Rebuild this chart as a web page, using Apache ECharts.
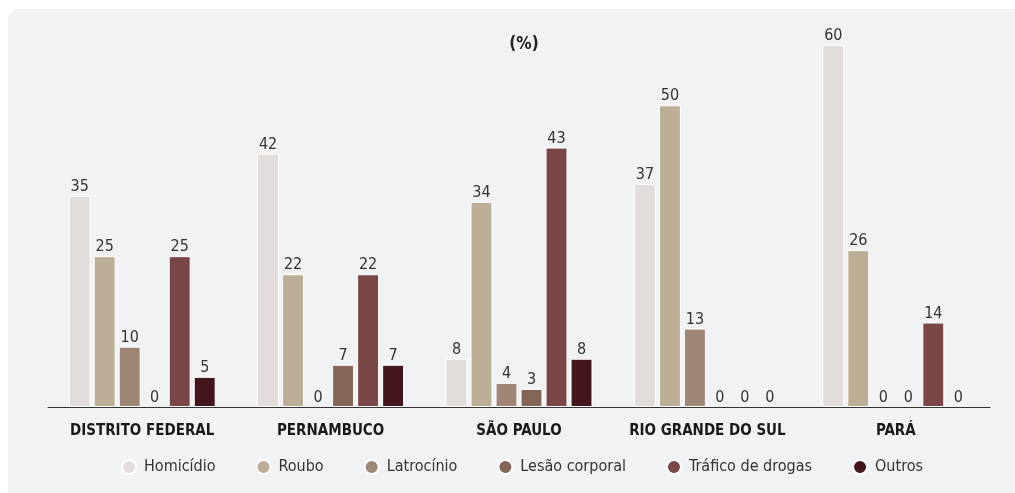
<!DOCTYPE html>
<html>
<head>
<meta charset="utf-8">
<script src="https://cdn.jsdelivr.net/npm/echarts@6/dist/echarts.min.js"></script>
<style>
  html, body { margin: 0; padding: 0; background: #ffffff; }
  #chart { width: 1015px; height: 493px; }
</style>
</head>
<body>
<div id="chart"></div>
<script>
const states = ['DISTRITO FEDERAL', 'PERNAMBUCO', 'SÃO PAULO', 'RIO GRANDE DO SUL', 'PARÁ'];
const homicidio = [35, 42, 8, 37, 60];
const roubo = [25, 22, 34, 50, 26];
const latrocinio = [10, 0, 4, 13, 0];
const lesaoCorporal = [0, 7, 3, 0, 0];
const trafico = [25, 22, 43, 0, 14];
const outros = [5, 7, 8, 0, 0];

const seriesDefs = [
  { name: 'Homicídio', data: homicidio, color: '#e2ddda' },
  { name: 'Roubo', data: roubo, color: '#bcae94' },
  { name: 'Latrocínio', data: latrocinio, color: '#9f8574' },
  { name: 'Lesão corporal', data: lesaoCorporal, color: '#836656' },
  { name: 'Tráfico de drogas', data: trafico, color: '#7b4646' },
  { name: 'Outros', data: outros, color: '#42161c' },
];

const font = '"DejaVu Sans Condensed", "Noto Sans", sans-serif';
const chart = echarts.init(document.getElementById('chart'));

chart.setOption({
  backgroundColor: '#ffffff',
  animation: false,
  graphic: [
    {
      type: 'rect',
      z: -10,
      silent: true,
      shape: { x: 8, y: 9, width: 1010, height: 490, r: [10, 0, 0, 0] },
      style: { fill: '#f1f2f4' },
    },
  ],
  title: {
    text: '(%)',
    left: 519,
    top: 31,
    textAlign: 'center',
    textStyle: { fontFamily: font, fontWeight: 'bold', fontSize: 17, color: '#222' },
  },
  legend: {
    bottom: 13,
    left: 116,
    icon: 'circle',
    itemWidth: 14,
    itemHeight: 14,
    itemGap: 40,
    textStyle: { fontFamily: font, fontSize: 16, color: '#333', padding: [0, 0, 0, 3] },
    data: seriesDefs.map((s) => s.name),
  },
  grid: { left: 48, right: 25, top: 45, bottom: 86 },
  xAxis: {
    type: 'category',
    data: states,
    z: 10,
    axisLine: { lineStyle: { color: '#333', width: 1 } },
    axisTick: { show: false },
    axisLabel: {
      interval: 0,
      fontFamily: font,
      fontWeight: 'bold',
      fontSize: 15,
      color: '#1a1a1a',
      margin: 17,
    },
  },
  yAxis: {
    type: 'value',
    min: 0,
    max: 60,
    show: false,
  },
  series: seriesDefs.map((s) => ({
    name: s.name,
    type: 'bar',
    data: s.data.map((v) => ({
      value: v,
      itemStyle: { borderWidth: v === 0 ? 0 : 1 },
    })),
    barGap: '14%',
    barCategoryGap: '22%',
    itemStyle: { color: s.color, borderColor: '#ffffff', borderWidth: 1 },
    label: {
      show: true,
      position: 'top',
      distance: 1,
      fontFamily: font,
      fontSize: 16,
      color: '#333',
    },
  })),
});
</script>
</body>
</html>
